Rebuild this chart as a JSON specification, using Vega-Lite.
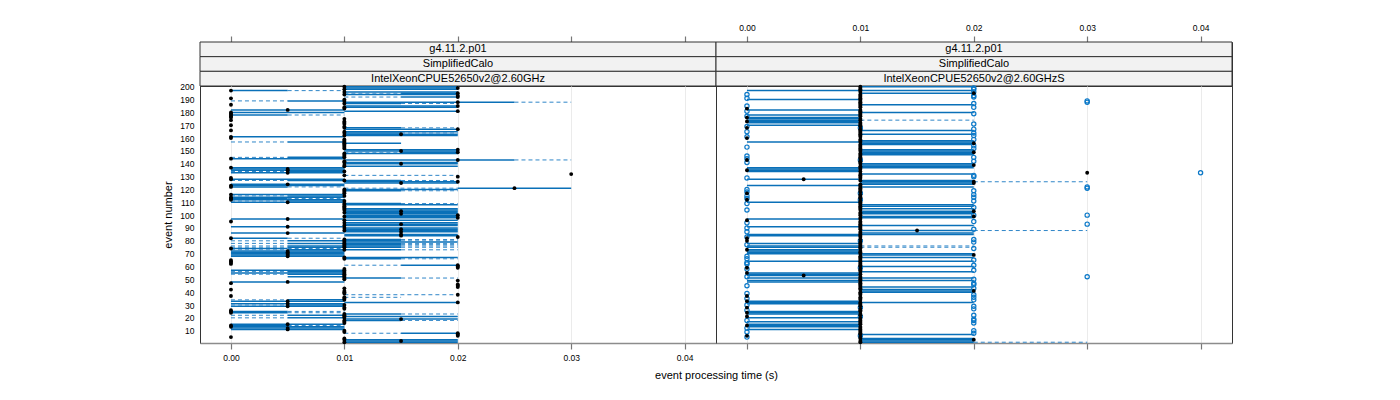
{
"$schema": "https://vega.github.io/schema/vega-lite/v6.json",
"padding": {"left": 162, "top": 22, "right": 0, "bottom": 0},
"spacing": 0,
"columns": 2,
"bounds": "flush",
"config": {
  "font": "Liberation Sans",
  "view": {"stroke": "#333333", "strokeWidth": 1},
  "axis": {"labelFont": "Liberation Sans", "titleFont": "Liberation Sans", "labelColor": "#000000", "titleColor": "#000000", "titleFontWeight": "normal", "labelFontSize": 8.5, "titleFontSize": 11}
},
"datasets": {
"strips": [
{"p":"L","lev":1,"label":"g4.11.2.p01"},{"p":"L","lev":2,"label":"SimplifiedCalo"},{"p":"L","lev":3,"label":"IntelXeonCPUE52650v2@2.60GHz"},
{"p":"R","lev":1,"label":"g4.11.2.p01"},{"p":"R","lev":2,"label":"SimplifiedCalo"},{"p":"R","lev":3,"label":"IntelXeonCPUE52650v2@2.60GHzS"}
],
"box": [
{"p":"L","e":1,"lo":0.01,"q1":0.01,"m":0.01,"q3":0.02,"hi":0.02},
{"p":"L","e":2,"lo":0.01,"q1":0.01,"m":0.015,"q3":0.02,"hi":0.02},
{"p":"L","e":3,"lo":0.01,"q1":0.01,"m":0.01,"q3":0.02,"hi":0.02},
{"p":"L","e":4,"lo":0.01,"q1":0.01,"m":0.01,"q3":0.01,"hi":0.01},
{"p":"L","e":5,"lo":0,"q1":0,"m":0,"q3":0,"hi":0},
{"p":"L","e":6,"lo":0.02,"q1":0.02,"m":0.02,"q3":0.02,"hi":0.02},
{"p":"L","e":7,"lo":0.02,"q1":0.02,"m":0.02,"q3":0.02,"hi":0.02},
{"p":"L","e":8,"lo":0.01,"q1":0.015,"m":0.02,"q3":0.02,"hi":0.02},
{"p":"L","e":9,"lo":0.01,"q1":0.01,"m":0.01,"q3":0.01,"hi":0.01},
{"p":"L","e":10,"lo":0.01,"q1":0.01,"m":0.01,"q3":0.01,"hi":0.01},
{"p":"L","e":11,"lo":0,"q1":0,"m":0.005,"q3":0.01,"hi":0.01},
{"p":"L","e":12,"lo":0,"q1":0,"m":0.005,"q3":0.01,"hi":0.01},
{"p":"L","e":13,"lo":0,"q1":0,"m":0,"q3":0.01,"hi":0.01},
{"p":"L","e":14,"lo":0,"q1":0,"m":0,"q3":0.005,"hi":0.01},
{"p":"L","e":15,"lo":0,"q1":0,"m":0.005,"q3":0.01,"hi":0.01},
{"p":"L","e":16,"lo":0.01,"q1":0.01,"m":0.01,"q3":0.01,"hi":0.01},
{"p":"L","e":17,"lo":0.01,"q1":0.01,"m":0.01,"q3":0.01,"hi":0.01},
{"p":"L","e":18,"lo":0.01,"q1":0.01,"m":0.01,"q3":0.015,"hi":0.02},
{"p":"L","e":19,"lo":0.01,"q1":0.01,"m":0.015,"q3":0.02,"hi":0.02},
{"p":"L","e":20,"lo":0,"q1":0.005,"m":0.01,"q3":0.01,"hi":0.01},
{"p":"L","e":21,"lo":0.01,"q1":0.01,"m":0.01,"q3":0.02,"hi":0.02},
{"p":"L","e":22,"lo":0,"q1":0.005,"m":0.01,"q3":0.01,"hi":0.01},
{"p":"L","e":23,"lo":0.01,"q1":0.01,"m":0.01,"q3":0.015,"hi":0.02},
{"p":"L","e":24,"lo":0,"q1":0,"m":0,"q3":0.005,"hi":0.01},
{"p":"L","e":25,"lo":0,"q1":0,"m":0,"q3":0.005,"hi":0.01},
{"p":"L","e":26,"lo":0,"q1":0,"m":0,"q3":0,"hi":0},
{"p":"L","e":27,"lo":0.01,"q1":0.01,"m":0.01,"q3":0.01,"hi":0.01},
{"p":"L","e":28,"lo":0.01,"q1":0.01,"m":0.01,"q3":0.01,"hi":0.01},
{"p":"L","e":29,"lo":0,"q1":0,"m":0.005,"q3":0.01,"hi":0.01},
{"p":"L","e":30,"lo":0,"q1":0.005,"m":0.01,"q3":0.01,"hi":0.01},
{"p":"L","e":31,"lo":0,"q1":0,"m":0.005,"q3":0.01,"hi":0.01},
{"p":"L","e":32,"lo":0.01,"q1":0.01,"m":0.02,"q3":0.02,"hi":0.02},
{"p":"L","e":33,"lo":0,"q1":0,"m":0.005,"q3":0.01,"hi":0.01},
{"p":"L","e":34,"lo":0,"q1":0.005,"m":0.01,"q3":0.01,"hi":0.01},
{"p":"L","e":35,"lo":0.01,"q1":0.01,"m":0.01,"q3":0.01,"hi":0.01},
{"p":"L","e":36,"lo":0.01,"q1":0.01,"m":0.01,"q3":0.01,"hi":0.015},
{"p":"L","e":37,"lo":0,"q1":0,"m":0,"q3":0,"hi":0},
{"p":"L","e":38,"lo":0.01,"q1":0.02,"m":0.02,"q3":0.02,"hi":0.02},
{"p":"L","e":39,"lo":0.01,"q1":0.01,"m":0.01,"q3":0.01,"hi":0.01},
{"p":"L","e":40,"lo":0.01,"q1":0.01,"m":0.01,"q3":0.01,"hi":0.01},
{"p":"L","e":41,"lo":0.01,"q1":0.01,"m":0.01,"q3":0.01,"hi":0.01},
{"p":"L","e":42,"lo":0,"q1":0,"m":0,"q3":0,"hi":0},
{"p":"L","e":43,"lo":0.01,"q1":0.01,"m":0.01,"q3":0.01,"hi":0.01},
{"p":"L","e":44,"lo":0.02,"q1":0.02,"m":0.02,"q3":0.02,"hi":0.02},
{"p":"L","e":45,"lo":0.02,"q1":0.02,"m":0.02,"q3":0.02,"hi":0.02},
{"p":"L","e":46,"lo":0.02,"q1":0.02,"m":0.02,"q3":0.02,"hi":0.02},
{"p":"L","e":47,"lo":0,"q1":0,"m":0,"q3":0,"hi":0},
{"p":"L","e":48,"lo":0,"q1":0,"m":0.005,"q3":0.01,"hi":0.01},
{"p":"L","e":49,"lo":0.02,"q1":0.02,"m":0.02,"q3":0.02,"hi":0.02},
{"p":"L","e":50,"lo":0.01,"q1":0.01,"m":0.01,"q3":0.01,"hi":0.01},
{"p":"L","e":51,"lo":0.01,"q1":0.01,"m":0.01,"q3":0.015,"hi":0.02},
{"p":"L","e":52,"lo":0.005,"q1":0.005,"m":0.01,"q3":0.01,"hi":0.01},
{"p":"L","e":53,"lo":0.01,"q1":0.01,"m":0.01,"q3":0.01,"hi":0.01},
{"p":"L","e":54,"lo":0,"q1":0.005,"m":0.01,"q3":0.01,"hi":0.01},
{"p":"L","e":55,"lo":0,"q1":0,"m":0.01,"q3":0.01,"hi":0.01},
{"p":"L","e":56,"lo":0,"q1":0.005,"m":0.01,"q3":0.01,"hi":0.01},
{"p":"L","e":57,"lo":0,"q1":0,"m":0.01,"q3":0.01,"hi":0.01},
{"p":"L","e":58,"lo":0.01,"q1":0.01,"m":0.01,"q3":0.01,"hi":0.01},
{"p":"L","e":59,"lo":0.02,"q1":0.02,"m":0.02,"q3":0.02,"hi":0.02},
{"p":"L","e":60,"lo":0.02,"q1":0.02,"m":0.02,"q3":0.02,"hi":0.02},
{"p":"L","e":61,"lo":0.01,"q1":0.015,"m":0.02,"q3":0.02,"hi":0.02},
{"p":"L","e":62,"lo":0,"q1":0,"m":0,"q3":0,"hi":0},
{"p":"L","e":63,"lo":0,"q1":0,"m":0,"q3":0,"hi":0},
{"p":"L","e":64,"lo":0,"q1":0,"m":0,"q3":0,"hi":0},
{"p":"L","e":65,"lo":0,"q1":0,"m":0,"q3":0,"hi":0},
{"p":"L","e":66,"lo":0.01,"q1":0.01,"m":0.01,"q3":0.015,"hi":0.02},
{"p":"L","e":67,"lo":0.01,"q1":0.01,"m":0.01,"q3":0.02,"hi":0.02},
{"p":"L","e":68,"lo":0,"q1":0,"m":0.005,"q3":0.01,"hi":0.01},
{"p":"L","e":69,"lo":0,"q1":0,"m":0.005,"q3":0.01,"hi":0.01},
{"p":"L","e":70,"lo":0,"q1":0,"m":0.005,"q3":0.01,"hi":0.01},
{"p":"L","e":71,"lo":0,"q1":0,"m":0.005,"q3":0.01,"hi":0.01},
{"p":"L","e":72,"lo":0,"q1":0,"m":0.005,"q3":0.01,"hi":0.01},
{"p":"L","e":73,"lo":0,"q1":0.005,"m":0.01,"q3":0.015,"hi":0.02},
{"p":"L","e":74,"lo":0,"q1":0,"m":0,"q3":0.005,"hi":0.01},
{"p":"L","e":75,"lo":0,"q1":0.005,"m":0.01,"q3":0.015,"hi":0.02},
{"p":"L","e":76,"lo":0,"q1":0.005,"m":0.01,"q3":0.015,"hi":0.02},
{"p":"L","e":77,"lo":0.01,"q1":0.01,"m":0.01,"q3":0.015,"hi":0.02},
{"p":"L","e":78,"lo":0,"q1":0.005,"m":0.01,"q3":0.015,"hi":0.02},
{"p":"L","e":79,"lo":0.01,"q1":0.01,"m":0.01,"q3":0.02,"hi":0.02},
{"p":"L","e":80,"lo":0,"q1":0.005,"m":0.01,"q3":0.015,"hi":0.02},
{"p":"L","e":81,"lo":0.01,"q1":0.01,"m":0.01,"q3":0.015,"hi":0.02},
{"p":"L","e":82,"lo":0,"q1":0,"m":0,"q3":0.005,"hi":0.01},
{"p":"L","e":83,"lo":0.02,"q1":0.02,"m":0.02,"q3":0.02,"hi":0.02},
{"p":"L","e":84,"lo":0.01,"q1":0.01,"m":0.015,"q3":0.02,"hi":0.02},
{"p":"L","e":85,"lo":0.01,"q1":0.01,"m":0.015,"q3":0.02,"hi":0.02},
{"p":"L","e":86,"lo":0,"q1":0,"m":0.005,"q3":0.01,"hi":0.01},
{"p":"L","e":87,"lo":0.01,"q1":0.01,"m":0.015,"q3":0.02,"hi":0.02},
{"p":"L","e":88,"lo":0.01,"q1":0.01,"m":0.01,"q3":0.02,"hi":0.02},
{"p":"L","e":89,"lo":0.01,"q1":0.01,"m":0.015,"q3":0.02,"hi":0.02},
{"p":"L","e":90,"lo":0.01,"q1":0.01,"m":0.01,"q3":0.02,"hi":0.02},
{"p":"L","e":91,"lo":0,"q1":0,"m":0.005,"q3":0.01,"hi":0.01},
{"p":"L","e":92,"lo":0.01,"q1":0.01,"m":0.01,"q3":0.02,"hi":0.02},
{"p":"L","e":93,"lo":0.01,"q1":0.01,"m":0.015,"q3":0.02,"hi":0.02},
{"p":"L","e":94,"lo":0.01,"q1":0.01,"m":0.01,"q3":0.02,"hi":0.02},
{"p":"L","e":95,"lo":0,"q1":0,"m":0,"q3":0,"hi":0},
{"p":"L","e":96,"lo":0.01,"q1":0.01,"m":0.01,"q3":0.02,"hi":0.02},
{"p":"L","e":97,"lo":0,"q1":0,"m":0.005,"q3":0.01,"hi":0.01},
{"p":"L","e":98,"lo":0.01,"q1":0.01,"m":0.02,"q3":0.02,"hi":0.02},
{"p":"L","e":99,"lo":0.01,"q1":0.01,"m":0.01,"q3":0.02,"hi":0.02},
{"p":"L","e":100,"lo":0.01,"q1":0.01,"m":0.02,"q3":0.02,"hi":0.02},
{"p":"L","e":101,"lo":0.01,"q1":0.01,"m":0.015,"q3":0.02,"hi":0.02},
{"p":"L","e":102,"lo":0.01,"q1":0.01,"m":0.01,"q3":0.02,"hi":0.02},
{"p":"L","e":103,"lo":0.01,"q1":0.01,"m":0.015,"q3":0.02,"hi":0.02},
{"p":"L","e":104,"lo":0.01,"q1":0.01,"m":0.01,"q3":0.02,"hi":0.02},
{"p":"L","e":105,"lo":0.01,"q1":0.01,"m":0.01,"q3":0.02,"hi":0.02},
{"p":"L","e":106,"lo":0.01,"q1":0.01,"m":0.01,"q3":0.01,"hi":0.01},
{"p":"L","e":107,"lo":0.01,"q1":0.01,"m":0.01,"q3":0.01,"hi":0.01},
{"p":"L","e":108,"lo":0.01,"q1":0.01,"m":0.01,"q3":0.02,"hi":0.02},
{"p":"L","e":109,"lo":0.01,"q1":0.01,"m":0.01,"q3":0.015,"hi":0.02},
{"p":"L","e":110,"lo":0,"q1":0,"m":0.005,"q3":0.01,"hi":0.01},
{"p":"L","e":111,"lo":0,"q1":0.005,"m":0.01,"q3":0.01,"hi":0.01},
{"p":"L","e":112,"lo":0,"q1":0,"m":0,"q3":0.01,"hi":0.01},
{"p":"L","e":113,"lo":0,"q1":0,"m":0,"q3":0.005,"hi":0.01},
{"p":"L","e":114,"lo":0,"q1":0,"m":0,"q3":0.01,"hi":0.01},
{"p":"L","e":115,"lo":0,"q1":0.005,"m":0.01,"q3":0.01,"hi":0.01},
{"p":"L","e":116,"lo":0,"q1":0,"m":0,"q3":0.01,"hi":0.01},
{"p":"L","e":117,"lo":0.01,"q1":0.01,"m":0.01,"q3":0.01,"hi":0.01},
{"p":"L","e":118,"lo":0.01,"q1":0.01,"m":0.01,"q3":0.01,"hi":0.01},
{"p":"L","e":119,"lo":0.01,"q1":0.01,"m":0.01,"q3":0.015,"hi":0.02},
{"p":"L","e":120,"lo":0.01,"q1":0.01,"m":0.01,"q3":0.02,"hi":0.02},
{"p":"L","e":121,"lo":0.01,"q1":0.02,"m":0.025,"q3":0.03,"hi":0.03},
{"p":"L","e":122,"lo":0,"q1":0,"m":0,"q3":0.005,"hi":0.01},
{"p":"L","e":123,"lo":0,"q1":0,"m":0,"q3":0.01,"hi":0.01},
{"p":"L","e":124,"lo":0,"q1":0,"m":0.005,"q3":0.01,"hi":0.01},
{"p":"L","e":125,"lo":0.01,"q1":0.01,"m":0.015,"q3":0.02,"hi":0.02},
{"p":"L","e":126,"lo":0.01,"q1":0.01,"m":0.02,"q3":0.02,"hi":0.02},
{"p":"L","e":127,"lo":0,"q1":0.005,"m":0.01,"q3":0.015,"hi":0.02},
{"p":"L","e":128,"lo":0,"q1":0,"m":0,"q3":0.01,"hi":0.01},
{"p":"L","e":129,"lo":0,"q1":0,"m":0,"q3":0,"hi":0},
{"p":"L","e":130,"lo":0.02,"q1":0.02,"m":0.02,"q3":0.02,"hi":0.02},
{"p":"L","e":131,"lo":0.01,"q1":0.01,"m":0.01,"q3":0.01,"hi":0.02},
{"p":"L","e":132,"lo":0.03,"q1":0.03,"m":0.03,"q3":0.03,"hi":0.03},
{"p":"L","e":133,"lo":0,"q1":0,"m":0.005,"q3":0.01,"hi":0.01},
{"p":"L","e":134,"lo":0,"q1":0.005,"m":0.01,"q3":0.01,"hi":0.01},
{"p":"L","e":135,"lo":0,"q1":0,"m":0.005,"q3":0.01,"hi":0.01},
{"p":"L","e":136,"lo":0,"q1":0,"m":0.005,"q3":0.01,"hi":0.01},
{"p":"L","e":137,"lo":0,"q1":0,"m":0,"q3":0.01,"hi":0.01},
{"p":"L","e":138,"lo":0.01,"q1":0.01,"m":0.01,"q3":0.02,"hi":0.02},
{"p":"L","e":139,"lo":0.01,"q1":0.01,"m":0.01,"q3":0.01,"hi":0.01},
{"p":"L","e":140,"lo":0.01,"q1":0.01,"m":0.015,"q3":0.02,"hi":0.02},
{"p":"L","e":141,"lo":0.01,"q1":0.01,"m":0.01,"q3":0.02,"hi":0.02},
{"p":"L","e":142,"lo":0.01,"q1":0.01,"m":0.01,"q3":0.01,"hi":0.01},
{"p":"L","e":143,"lo":0.01,"q1":0.01,"m":0.02,"q3":0.025,"hi":0.03},
{"p":"L","e":144,"lo":0,"q1":0,"m":0,"q3":0.01,"hi":0.01},
{"p":"L","e":145,"lo":0,"q1":0.005,"m":0.01,"q3":0.01,"hi":0.01},
{"p":"L","e":146,"lo":0.01,"q1":0.01,"m":0.01,"q3":0.01,"hi":0.01},
{"p":"L","e":147,"lo":0.01,"q1":0.01,"m":0.01,"q3":0.01,"hi":0.01},
{"p":"L","e":148,"lo":0.01,"q1":0.01,"m":0.01,"q3":0.02,"hi":0.02},
{"p":"L","e":149,"lo":0.01,"q1":0.015,"m":0.02,"q3":0.02,"hi":0.02},
{"p":"L","e":150,"lo":0.01,"q1":0.01,"m":0.015,"q3":0.02,"hi":0.02},
{"p":"L","e":151,"lo":0.01,"q1":0.01,"m":0.02,"q3":0.02,"hi":0.02},
{"p":"L","e":152,"lo":0.01,"q1":0.01,"m":0.01,"q3":0.01,"hi":0.01},
{"p":"L","e":153,"lo":0.01,"q1":0.01,"m":0.01,"q3":0.01,"hi":0.01},
{"p":"L","e":154,"lo":0.01,"q1":0.01,"m":0.01,"q3":0.01,"hi":0.01},
{"p":"L","e":155,"lo":0.01,"q1":0.01,"m":0.01,"q3":0.01,"hi":0.01},
{"p":"L","e":156,"lo":0.01,"q1":0.01,"m":0.01,"q3":0.015,"hi":0.015},
{"p":"L","e":157,"lo":0,"q1":0.005,"m":0.01,"q3":0.01,"hi":0.01},
{"p":"L","e":158,"lo":0.01,"q1":0.01,"m":0.01,"q3":0.01,"hi":0.01},
{"p":"L","e":159,"lo":0.01,"q1":0.01,"m":0.01,"q3":0.01,"hi":0.01},
{"p":"L","e":160,"lo":0,"q1":0,"m":0,"q3":0,"hi":0},
{"p":"L","e":161,"lo":0,"q1":0,"m":0,"q3":0.01,"hi":0.01},
{"p":"L","e":162,"lo":0.01,"q1":0.01,"m":0.01,"q3":0.02,"hi":0.02},
{"p":"L","e":163,"lo":0.01,"q1":0.01,"m":0.015,"q3":0.02,"hi":0.02},
{"p":"L","e":164,"lo":0.01,"q1":0.01,"m":0.01,"q3":0.015,"hi":0.02},
{"p":"L","e":165,"lo":0.01,"q1":0.01,"m":0.01,"q3":0.02,"hi":0.02},
{"p":"L","e":166,"lo":0,"q1":0,"m":0,"q3":0,"hi":0},
{"p":"L","e":167,"lo":0.01,"q1":0.01,"m":0.02,"q3":0.02,"hi":0.02},
{"p":"L","e":168,"lo":0.01,"q1":0.01,"m":0.01,"q3":0.015,"hi":0.02},
{"p":"L","e":169,"lo":0.01,"q1":0.01,"m":0.01,"q3":0.01,"hi":0.01},
{"p":"L","e":170,"lo":0,"q1":0,"m":0,"q3":0,"hi":0},
{"p":"L","e":171,"lo":0.01,"q1":0.01,"m":0.01,"q3":0.01,"hi":0.01},
{"p":"L","e":172,"lo":0.01,"q1":0.01,"m":0.01,"q3":0.01,"hi":0.01},
{"p":"L","e":173,"lo":0.01,"q1":0.01,"m":0.01,"q3":0.01,"hi":0.01},
{"p":"L","e":174,"lo":0,"q1":0,"m":0,"q3":0,"hi":0},
{"p":"L","e":175,"lo":0.01,"q1":0.01,"m":0.01,"q3":0.01,"hi":0.01},
{"p":"L","e":176,"lo":0,"q1":0,"m":0,"q3":0,"hi":0},
{"p":"L","e":177,"lo":0,"q1":0,"m":0,"q3":0,"hi":0},
{"p":"L","e":178,"lo":0,"q1":0,"m":0,"q3":0.005,"hi":0.01},
{"p":"L","e":179,"lo":0,"q1":0,"m":0,"q3":0,"hi":0},
{"p":"L","e":180,"lo":0,"q1":0,"m":0,"q3":0.01,"hi":0.01},
{"p":"L","e":181,"lo":0.01,"q1":0.01,"m":0.02,"q3":0.02,"hi":0.02},
{"p":"L","e":182,"lo":0,"q1":0,"m":0.005,"q3":0.01,"hi":0.01},
{"p":"L","e":183,"lo":0.01,"q1":0.01,"m":0.01,"q3":0.01,"hi":0.01},
{"p":"L","e":184,"lo":0.01,"q1":0.01,"m":0.01,"q3":0.02,"hi":0.02},
{"p":"L","e":185,"lo":0.01,"q1":0.01,"m":0.02,"q3":0.02,"hi":0.02},
{"p":"L","e":186,"lo":0,"q1":0,"m":0,"q3":0,"hi":0},
{"p":"L","e":187,"lo":0.01,"q1":0.01,"m":0.01,"q3":0.015,"hi":0.02},
{"p":"L","e":188,"lo":0.01,"q1":0.01,"m":0.02,"q3":0.025,"hi":0.03},
{"p":"L","e":189,"lo":0,"q1":0.005,"m":0.01,"q3":0.01,"hi":0.01},
{"p":"L","e":190,"lo":0.01,"q1":0.01,"m":0.01,"q3":0.01,"hi":0.01},
{"p":"L","e":191,"lo":0,"q1":0,"m":0,"q3":0,"hi":0},
{"p":"L","e":192,"lo":0.01,"q1":0.015,"m":0.02,"q3":0.02,"hi":0.02},
{"p":"L","e":193,"lo":0.02,"q1":0.02,"m":0.02,"q3":0.02,"hi":0.02},
{"p":"L","e":194,"lo":0.01,"q1":0.01,"m":0.01,"q3":0.02,"hi":0.02},
{"p":"L","e":195,"lo":0.01,"q1":0.015,"m":0.02,"q3":0.02,"hi":0.02},
{"p":"L","e":196,"lo":0.01,"q1":0.01,"m":0.01,"q3":0.02,"hi":0.02},
{"p":"L","e":197,"lo":0,"q1":0,"m":0,"q3":0.005,"hi":0.01},
{"p":"L","e":198,"lo":0.01,"q1":0.01,"m":0.01,"q3":0.02,"hi":0.02},
{"p":"L","e":199,"lo":0.01,"q1":0.01,"m":0.02,"q3":0.02,"hi":0.02},
{"p":"L","e":200,"lo":0.01,"q1":0.01,"m":0.01,"q3":0.02,"hi":0.02},
{"p":"R","e":1,"lo":0.01,"q1":0.01,"m":0.01,"q3":0.02,"hi":0.03},
{"p":"R","e":2,"lo":0.01,"q1":0.01,"m":0.01,"q3":0.02,"hi":0.02},
{"p":"R","e":3,"lo":0.01,"q1":0.01,"m":0.02,"q3":0.02,"hi":0.02},
{"p":"R","e":4,"lo":0.01,"q1":0.01,"m":0.01,"q3":0.02,"hi":0.02},
{"p":"R","e":5,"lo":0.01,"q1":0.01,"m":0.01,"q3":0.01,"hi":0.01},
{"p":"R","e":6,"lo":0,"q1":0,"m":0,"q3":0,"hi":0},
{"p":"R","e":7,"lo":0.01,"q1":0.01,"m":0.01,"q3":0.02,"hi":0.02},
{"p":"R","e":8,"lo":0.01,"q1":0.01,"m":0.01,"q3":0.01,"hi":0.01},
{"p":"R","e":9,"lo":0.01,"q1":0.01,"m":0.01,"q3":0.01,"hi":0.01},
{"p":"R","e":10,"lo":0.01,"q1":0.01,"m":0.01,"q3":0.01,"hi":0.01},
{"p":"R","e":11,"lo":0,"q1":0,"m":0.01,"q3":0.01,"hi":0.01},
{"p":"R","e":12,"lo":0.01,"q1":0.01,"m":0.01,"q3":0.01,"hi":0.01},
{"p":"R","e":13,"lo":0,"q1":0,"m":0.01,"q3":0.01,"hi":0.01},
{"p":"R","e":14,"lo":0,"q1":0,"m":0,"q3":0.01,"hi":0.01},
{"p":"R","e":15,"lo":0,"q1":0,"m":0.01,"q3":0.01,"hi":0.01},
{"p":"R","e":16,"lo":0.01,"q1":0.01,"m":0.01,"q3":0.01,"hi":0.01},
{"p":"R","e":17,"lo":0,"q1":0,"m":0.01,"q3":0.01,"hi":0.01},
{"p":"R","e":18,"lo":0.01,"q1":0.01,"m":0.01,"q3":0.01,"hi":0.01},
{"p":"R","e":19,"lo":0.01,"q1":0.01,"m":0.01,"q3":0.01,"hi":0.01},
{"p":"R","e":20,"lo":0,"q1":0,"m":0.01,"q3":0.01,"hi":0.01},
{"p":"R","e":21,"lo":0,"q1":0,"m":0,"q3":0,"hi":0},
{"p":"R","e":22,"lo":0.01,"q1":0.01,"m":0.01,"q3":0.01,"hi":0.01},
{"p":"R","e":23,"lo":0,"q1":0,"m":0.01,"q3":0.01,"hi":0.01},
{"p":"R","e":24,"lo":0,"q1":0,"m":0,"q3":0.01,"hi":0.01},
{"p":"R","e":25,"lo":0,"q1":0,"m":0.01,"q3":0.01,"hi":0.01},
{"p":"R","e":26,"lo":0.01,"q1":0.01,"m":0.01,"q3":0.01,"hi":0.01},
{"p":"R","e":27,"lo":0.01,"q1":0.01,"m":0.01,"q3":0.01,"hi":0.01},
{"p":"R","e":28,"lo":0,"q1":0,"m":0,"q3":0,"hi":0},
{"p":"R","e":29,"lo":0.01,"q1":0.01,"m":0.01,"q3":0.01,"hi":0.01},
{"p":"R","e":30,"lo":0.01,"q1":0.01,"m":0.01,"q3":0.01,"hi":0.01},
{"p":"R","e":31,"lo":0,"q1":0,"m":0.01,"q3":0.01,"hi":0.01},
{"p":"R","e":32,"lo":0,"q1":0,"m":0.01,"q3":0.02,"hi":0.02},
{"p":"R","e":33,"lo":0,"q1":0,"m":0,"q3":0.01,"hi":0.01},
{"p":"R","e":34,"lo":0.01,"q1":0.01,"m":0.01,"q3":0.01,"hi":0.01},
{"p":"R","e":35,"lo":0.01,"q1":0.01,"m":0.01,"q3":0.01,"hi":0.01},
{"p":"R","e":36,"lo":0.01,"q1":0.01,"m":0.01,"q3":0.01,"hi":0.01},
{"p":"R","e":37,"lo":0,"q1":0,"m":0,"q3":0,"hi":0},
{"p":"R","e":38,"lo":0.01,"q1":0.01,"m":0.01,"q3":0.01,"hi":0.01},
{"p":"R","e":39,"lo":0.01,"q1":0.01,"m":0.01,"q3":0.01,"hi":0.01},
{"p":"R","e":40,"lo":0.01,"q1":0.01,"m":0.01,"q3":0.02,"hi":0.02},
{"p":"R","e":41,"lo":0.01,"q1":0.01,"m":0.02,"q3":0.02,"hi":0.02},
{"p":"R","e":42,"lo":0.01,"q1":0.01,"m":0.01,"q3":0.02,"hi":0.02},
{"p":"R","e":43,"lo":0.01,"q1":0.01,"m":0.01,"q3":0.01,"hi":0.01},
{"p":"R","e":44,"lo":0.01,"q1":0.01,"m":0.01,"q3":0.02,"hi":0.02},
{"p":"R","e":45,"lo":0.01,"q1":0.01,"m":0.01,"q3":0.01,"hi":0.01},
{"p":"R","e":46,"lo":0.01,"q1":0.01,"m":0.01,"q3":0.01,"hi":0.01},
{"p":"R","e":47,"lo":0.01,"q1":0.01,"m":0.01,"q3":0.01,"hi":0.01},
{"p":"R","e":48,"lo":0,"q1":0,"m":0.01,"q3":0.01,"hi":0.01},
{"p":"R","e":49,"lo":0,"q1":0,"m":0.01,"q3":0.02,"hi":0.02},
{"p":"R","e":50,"lo":0.01,"q1":0.01,"m":0.01,"q3":0.01,"hi":0.01},
{"p":"R","e":51,"lo":0,"q1":0,"m":0.01,"q3":0.02,"hi":0.02},
{"p":"R","e":52,"lo":0.01,"q1":0.01,"m":0.01,"q3":0.01,"hi":0.01},
{"p":"R","e":53,"lo":0,"q1":0,"m":0.005,"q3":0.01,"hi":0.01},
{"p":"R","e":54,"lo":0,"q1":0,"m":0.01,"q3":0.01,"hi":0.01},
{"p":"R","e":55,"lo":0,"q1":0,"m":0,"q3":0.01,"hi":0.01},
{"p":"R","e":56,"lo":0.01,"q1":0.01,"m":0.01,"q3":0.02,"hi":0.02},
{"p":"R","e":57,"lo":0.01,"q1":0.01,"m":0.01,"q3":0.01,"hi":0.01},
{"p":"R","e":58,"lo":0.01,"q1":0.01,"m":0.01,"q3":0.01,"hi":0.01},
{"p":"R","e":59,"lo":0,"q1":0,"m":0,"q3":0,"hi":0},
{"p":"R","e":60,"lo":0.01,"q1":0.01,"m":0.01,"q3":0.02,"hi":0.02},
{"p":"R","e":61,"lo":0.01,"q1":0.01,"m":0.01,"q3":0.01,"hi":0.01},
{"p":"R","e":62,"lo":0.01,"q1":0.01,"m":0.01,"q3":0.01,"hi":0.01},
{"p":"R","e":63,"lo":0.01,"q1":0.01,"m":0.01,"q3":0.01,"hi":0.01},
{"p":"R","e":64,"lo":0,"q1":0,"m":0.01,"q3":0.02,"hi":0.02},
{"p":"R","e":65,"lo":0.01,"q1":0.01,"m":0.01,"q3":0.01,"hi":0.01},
{"p":"R","e":66,"lo":0.01,"q1":0.01,"m":0.01,"q3":0.01,"hi":0.01},
{"p":"R","e":67,"lo":0.01,"q1":0.01,"m":0.01,"q3":0.02,"hi":0.02},
{"p":"R","e":68,"lo":0.01,"q1":0.01,"m":0.01,"q3":0.01,"hi":0.01},
{"p":"R","e":69,"lo":0.01,"q1":0.01,"m":0.02,"q3":0.02,"hi":0.02},
{"p":"R","e":70,"lo":0,"q1":0,"m":0.01,"q3":0.02,"hi":0.02},
{"p":"R","e":71,"lo":0,"q1":0,"m":0.01,"q3":0.01,"hi":0.01},
{"p":"R","e":72,"lo":0,"q1":0,"m":0.01,"q3":0.01,"hi":0.01},
{"p":"R","e":73,"lo":0,"q1":0,"m":0,"q3":0.01,"hi":0.01},
{"p":"R","e":74,"lo":0.01,"q1":0.01,"m":0.01,"q3":0.01,"hi":0.01},
{"p":"R","e":75,"lo":0,"q1":0,"m":0.01,"q3":0.01,"hi":0.02},
{"p":"R","e":76,"lo":0,"q1":0,"m":0.01,"q3":0.01,"hi":0.02},
{"p":"R","e":77,"lo":0.01,"q1":0.01,"m":0.01,"q3":0.01,"hi":0.01},
{"p":"R","e":78,"lo":0,"q1":0,"m":0.01,"q3":0.01,"hi":0.01},
{"p":"R","e":79,"lo":0.01,"q1":0.01,"m":0.01,"q3":0.01,"hi":0.01},
{"p":"R","e":80,"lo":0,"q1":0,"m":0,"q3":0,"hi":0},
{"p":"R","e":81,"lo":0.01,"q1":0.01,"m":0.01,"q3":0.01,"hi":0.01},
{"p":"R","e":82,"lo":0,"q1":0,"m":0,"q3":0,"hi":0},
{"p":"R","e":83,"lo":0.01,"q1":0.01,"m":0.01,"q3":0.01,"hi":0.01},
{"p":"R","e":84,"lo":0,"q1":0,"m":0.01,"q3":0.01,"hi":0.01},
{"p":"R","e":85,"lo":0,"q1":0,"m":0.01,"q3":0.02,"hi":0.02},
{"p":"R","e":86,"lo":0.01,"q1":0.01,"m":0.01,"q3":0.02,"hi":0.02},
{"p":"R","e":87,"lo":0.01,"q1":0.01,"m":0.01,"q3":0.01,"hi":0.01},
{"p":"R","e":88,"lo":0.01,"q1":0.01,"m":0.015,"q3":0.02,"hi":0.03},
{"p":"R","e":89,"lo":0.01,"q1":0.01,"m":0.01,"q3":0.01,"hi":0.01},
{"p":"R","e":90,"lo":0.01,"q1":0.01,"m":0.01,"q3":0.01,"hi":0.01},
{"p":"R","e":91,"lo":0,"q1":0,"m":0.01,"q3":0.01,"hi":0.01},
{"p":"R","e":92,"lo":0.01,"q1":0.01,"m":0.01,"q3":0.02,"hi":0.02},
{"p":"R","e":93,"lo":0.01,"q1":0.01,"m":0.01,"q3":0.01,"hi":0.01},
{"p":"R","e":94,"lo":0.01,"q1":0.01,"m":0.01,"q3":0.01,"hi":0.01},
{"p":"R","e":95,"lo":0.01,"q1":0.01,"m":0.01,"q3":0.01,"hi":0.01},
{"p":"R","e":96,"lo":0,"q1":0,"m":0,"q3":0,"hi":0},
{"p":"R","e":97,"lo":0,"q1":0,"m":0.01,"q3":0.01,"hi":0.01},
{"p":"R","e":98,"lo":0.01,"q1":0.01,"m":0.01,"q3":0.02,"hi":0.02},
{"p":"R","e":99,"lo":0.01,"q1":0.01,"m":0.02,"q3":0.02,"hi":0.02},
{"p":"R","e":100,"lo":0.01,"q1":0.01,"m":0.01,"q3":0.01,"hi":0.01},
{"p":"R","e":101,"lo":0.01,"q1":0.01,"m":0.01,"q3":0.02,"hi":0.02},
{"p":"R","e":102,"lo":0.01,"q1":0.01,"m":0.01,"q3":0.02,"hi":0.02},
{"p":"R","e":103,"lo":0.01,"q1":0.01,"m":0.02,"q3":0.02,"hi":0.02},
{"p":"R","e":104,"lo":0.01,"q1":0.01,"m":0.01,"q3":0.01,"hi":0.01},
{"p":"R","e":105,"lo":0.01,"q1":0.01,"m":0.01,"q3":0.02,"hi":0.02},
{"p":"R","e":106,"lo":0.01,"q1":0.01,"m":0.01,"q3":0.01,"hi":0.01},
{"p":"R","e":107,"lo":0.01,"q1":0.01,"m":0.01,"q3":0.02,"hi":0.02},
{"p":"R","e":108,"lo":0.01,"q1":0.01,"m":0.01,"q3":0.02,"hi":0.02},
{"p":"R","e":109,"lo":0.01,"q1":0.01,"m":0.01,"q3":0.01,"hi":0.01},
{"p":"R","e":110,"lo":0,"q1":0,"m":0.01,"q3":0.01,"hi":0.01},
{"p":"R","e":111,"lo":0.01,"q1":0.01,"m":0.01,"q3":0.01,"hi":0.01},
{"p":"R","e":112,"lo":0,"q1":0,"m":0,"q3":0,"hi":0},
{"p":"R","e":113,"lo":0.01,"q1":0.01,"m":0.01,"q3":0.01,"hi":0.01},
{"p":"R","e":114,"lo":0.01,"q1":0.01,"m":0.01,"q3":0.01,"hi":0.01},
{"p":"R","e":115,"lo":0.01,"q1":0.01,"m":0.01,"q3":0.01,"hi":0.01},
{"p":"R","e":116,"lo":0.01,"q1":0.01,"m":0.01,"q3":0.01,"hi":0.01},
{"p":"R","e":117,"lo":0,"q1":0,"m":0,"q3":0,"hi":0},
{"p":"R","e":118,"lo":0.01,"q1":0.01,"m":0.01,"q3":0.01,"hi":0.01},
{"p":"R","e":119,"lo":0.01,"q1":0.01,"m":0.01,"q3":0.01,"hi":0.01},
{"p":"R","e":120,"lo":0.01,"q1":0.01,"m":0.01,"q3":0.01,"hi":0.01},
{"p":"R","e":121,"lo":0.01,"q1":0.01,"m":0.01,"q3":0.01,"hi":0.01},
{"p":"R","e":122,"lo":0.01,"q1":0.01,"m":0.01,"q3":0.02,"hi":0.02},
{"p":"R","e":123,"lo":0,"q1":0,"m":0.01,"q3":0.01,"hi":0.01},
{"p":"R","e":124,"lo":0.01,"q1":0.01,"m":0.01,"q3":0.02,"hi":0.02},
{"p":"R","e":125,"lo":0.01,"q1":0.01,"m":0.02,"q3":0.02,"hi":0.02},
{"p":"R","e":126,"lo":0.01,"q1":0.01,"m":0.02,"q3":0.02,"hi":0.03},
{"p":"R","e":127,"lo":0.01,"q1":0.01,"m":0.01,"q3":0.02,"hi":0.02},
{"p":"R","e":128,"lo":0,"q1":0,"m":0.005,"q3":0.01,"hi":0.01},
{"p":"R","e":129,"lo":0.01,"q1":0.01,"m":0.01,"q3":0.01,"hi":0.01},
{"p":"R","e":130,"lo":0.01,"q1":0.01,"m":0.01,"q3":0.01,"hi":0.01},
{"p":"R","e":131,"lo":0.01,"q1":0.01,"m":0.01,"q3":0.01,"hi":0.01},
{"p":"R","e":132,"lo":0.01,"q1":0.01,"m":0.01,"q3":0.02,"hi":0.02},
{"p":"R","e":133,"lo":0.03,"q1":0.03,"m":0.03,"q3":0.03,"hi":0.03},
{"p":"R","e":134,"lo":0,"q1":0,"m":0.01,"q3":0.01,"hi":0.01},
{"p":"R","e":135,"lo":0,"q1":0,"m":0,"q3":0.01,"hi":0.01},
{"p":"R","e":136,"lo":0,"q1":0,"m":0.01,"q3":0.01,"hi":0.01},
{"p":"R","e":137,"lo":0,"q1":0,"m":0.01,"q3":0.02,"hi":0.02},
{"p":"R","e":138,"lo":0.01,"q1":0.01,"m":0.01,"q3":0.02,"hi":0.02},
{"p":"R","e":139,"lo":0.01,"q1":0.01,"m":0.02,"q3":0.02,"hi":0.02},
{"p":"R","e":140,"lo":0.01,"q1":0.01,"m":0.01,"q3":0.02,"hi":0.02},
{"p":"R","e":141,"lo":0.01,"q1":0.01,"m":0.01,"q3":0.01,"hi":0.01},
{"p":"R","e":142,"lo":0.01,"q1":0.01,"m":0.01,"q3":0.01,"hi":0.01},
{"p":"R","e":143,"lo":0,"q1":0,"m":0,"q3":0,"hi":0},
{"p":"R","e":144,"lo":0.01,"q1":0.01,"m":0.01,"q3":0.01,"hi":0.01},
{"p":"R","e":145,"lo":0.01,"q1":0.01,"m":0.01,"q3":0.01,"hi":0.01},
{"p":"R","e":146,"lo":0.01,"q1":0.01,"m":0.01,"q3":0.01,"hi":0.01},
{"p":"R","e":147,"lo":0.01,"q1":0.01,"m":0.01,"q3":0.02,"hi":0.02},
{"p":"R","e":148,"lo":0.01,"q1":0.01,"m":0.01,"q3":0.02,"hi":0.02},
{"p":"R","e":149,"lo":0.01,"q1":0.01,"m":0.02,"q3":0.02,"hi":0.02},
{"p":"R","e":150,"lo":0.01,"q1":0.01,"m":0.01,"q3":0.02,"hi":0.02},
{"p":"R","e":151,"lo":0.01,"q1":0.01,"m":0.01,"q3":0.02,"hi":0.02},
{"p":"R","e":152,"lo":0.01,"q1":0.01,"m":0.01,"q3":0.01,"hi":0.01},
{"p":"R","e":153,"lo":0.01,"q1":0.01,"m":0.01,"q3":0.01,"hi":0.01},
{"p":"R","e":154,"lo":0.01,"q1":0.01,"m":0.01,"q3":0.01,"hi":0.01},
{"p":"R","e":155,"lo":0.01,"q1":0.01,"m":0.01,"q3":0.02,"hi":0.02},
{"p":"R","e":156,"lo":0.01,"q1":0.01,"m":0.02,"q3":0.02,"hi":0.02},
{"p":"R","e":157,"lo":0,"q1":0,"m":0.01,"q3":0.02,"hi":0.02},
{"p":"R","e":158,"lo":0.01,"q1":0.01,"m":0.01,"q3":0.02,"hi":0.02},
{"p":"R","e":159,"lo":0.01,"q1":0.01,"m":0.01,"q3":0.01,"hi":0.01},
{"p":"R","e":160,"lo":0,"q1":0,"m":0,"q3":0,"hi":0},
{"p":"R","e":161,"lo":0.01,"q1":0.01,"m":0.01,"q3":0.01,"hi":0.01},
{"p":"R","e":162,"lo":0.01,"q1":0.01,"m":0.01,"q3":0.01,"hi":0.01},
{"p":"R","e":163,"lo":0.01,"q1":0.01,"m":0.01,"q3":0.02,"hi":0.02},
{"p":"R","e":164,"lo":0.01,"q1":0.01,"m":0.01,"q3":0.01,"hi":0.01},
{"p":"R","e":165,"lo":0.01,"q1":0.01,"m":0.01,"q3":0.01,"hi":0.01},
{"p":"R","e":166,"lo":0.01,"q1":0.01,"m":0.01,"q3":0.02,"hi":0.02},
{"p":"R","e":167,"lo":0.01,"q1":0.01,"m":0.01,"q3":0.01,"hi":0.01},
{"p":"R","e":168,"lo":0,"q1":0,"m":0,"q3":0,"hi":0},
{"p":"R","e":169,"lo":0.01,"q1":0.01,"m":0.01,"q3":0.01,"hi":0.01},
{"p":"R","e":170,"lo":0,"q1":0,"m":0.01,"q3":0.01,"hi":0.01},
{"p":"R","e":171,"lo":0.01,"q1":0.01,"m":0.01,"q3":0.01,"hi":0.01},
{"p":"R","e":172,"lo":0,"q1":0,"m":0.01,"q3":0.01,"hi":0.01},
{"p":"R","e":173,"lo":0,"q1":0,"m":0,"q3":0.01,"hi":0.01},
{"p":"R","e":174,"lo":0,"q1":0,"m":0.01,"q3":0.01,"hi":0.02},
{"p":"R","e":175,"lo":0,"q1":0,"m":0.01,"q3":0.01,"hi":0.01},
{"p":"R","e":176,"lo":0,"q1":0,"m":0,"q3":0.01,"hi":0.01},
{"p":"R","e":177,"lo":0.01,"q1":0.01,"m":0.01,"q3":0.01,"hi":0.01},
{"p":"R","e":178,"lo":0,"q1":0,"m":0.01,"q3":0.01,"hi":0.01},
{"p":"R","e":179,"lo":0.01,"q1":0.01,"m":0.01,"q3":0.01,"hi":0.01},
{"p":"R","e":180,"lo":0.01,"q1":0.01,"m":0.01,"q3":0.02,"hi":0.02},
{"p":"R","e":181,"lo":0.01,"q1":0.01,"m":0.01,"q3":0.01,"hi":0.01},
{"p":"R","e":182,"lo":0,"q1":0,"m":0.01,"q3":0.01,"hi":0.01},
{"p":"R","e":183,"lo":0,"q1":0,"m":0,"q3":0,"hi":0},
{"p":"R","e":184,"lo":0.01,"q1":0.01,"m":0.01,"q3":0.01,"hi":0.01},
{"p":"R","e":185,"lo":0.01,"q1":0.01,"m":0.01,"q3":0.01,"hi":0.01},
{"p":"R","e":186,"lo":0.01,"q1":0.01,"m":0.01,"q3":0.02,"hi":0.02},
{"p":"R","e":187,"lo":0.01,"q1":0.01,"m":0.01,"q3":0.01,"hi":0.01},
{"p":"R","e":188,"lo":0.01,"q1":0.01,"m":0.01,"q3":0.01,"hi":0.01},
{"p":"R","e":189,"lo":0.01,"q1":0.01,"m":0.01,"q3":0.01,"hi":0.01},
{"p":"R","e":190,"lo":0,"q1":0,"m":0.01,"q3":0.01,"hi":0.01},
{"p":"R","e":191,"lo":0.01,"q1":0.01,"m":0.01,"q3":0.01,"hi":0.01},
{"p":"R","e":192,"lo":0.01,"q1":0.01,"m":0.01,"q3":0.01,"hi":0.01},
{"p":"R","e":193,"lo":0.01,"q1":0.01,"m":0.01,"q3":0.01,"hi":0.01},
{"p":"R","e":194,"lo":0.01,"q1":0.01,"m":0.01,"q3":0.01,"hi":0.01},
{"p":"R","e":195,"lo":0.01,"q1":0.01,"m":0.02,"q3":0.02,"hi":0.02},
{"p":"R","e":196,"lo":0.01,"q1":0.01,"m":0.01,"q3":0.01,"hi":0.01},
{"p":"R","e":197,"lo":0,"q1":0,"m":0.01,"q3":0.02,"hi":0.02},
{"p":"R","e":198,"lo":0.01,"q1":0.01,"m":0.01,"q3":0.01,"hi":0.01},
{"p":"R","e":199,"lo":0.01,"q1":0.01,"m":0.01,"q3":0.01,"hi":0.01},
{"p":"R","e":200,"lo":0.01,"q1":0.01,"m":0.01,"q3":0.02,"hi":0.02}
],
"out": [
{"p":"R","e":5,"t":0},{"p":"R","e":9,"t":0},{"p":"R","e":12,"t":0},{"p":"R","e":18,"t":0},{"p":"R","e":26,"t":0},{"p":"R","e":30,"t":0},{"p":"R","e":35,"t":0},{"p":"R","e":39,"t":0},{"p":"R","e":45,"t":0},{"p":"R","e":52,"t":0},{"p":"R","e":58,"t":0},{"p":"R","e":62,"t":0},{"p":"R","e":63,"t":0},{"p":"R","e":66,"t":0},{"p":"R","e":68,"t":0},{"p":"R","e":77,"t":0},{"p":"R","e":83,"t":0},{"p":"R","e":87,"t":0},{"p":"R","e":90,"t":0},{"p":"R","e":94,"t":0},{"p":"R","e":104,"t":0},{"p":"R","e":109,"t":0},{"p":"R","e":113,"t":0},{"p":"R","e":115,"t":0},{"p":"R","e":118,"t":0},{"p":"R","e":120,"t":0},{"p":"R","e":129,"t":0},{"p":"R","e":141,"t":0},{"p":"R","e":144,"t":0},{"p":"R","e":146,"t":0},{"p":"R","e":153,"t":0},{"p":"R","e":161,"t":0},{"p":"R","e":165,"t":0},{"p":"R","e":169,"t":0},{"p":"R","e":177,"t":0},{"p":"R","e":181,"t":0},{"p":"R","e":185,"t":0},{"p":"R","e":191,"t":0},{"p":"R","e":194,"t":0},
{"p":"R","e":6,"t":0.01},{"p":"R","e":21,"t":0.01},{"p":"R","e":28,"t":0.01},{"p":"R","e":59,"t":0.01},{"p":"R","e":80,"t":0.01},{"p":"R","e":112,"t":0.01},{"p":"R","e":117,"t":0.01},{"p":"R","e":143,"t":0.01},{"p":"R","e":168,"t":0.01},
{"p":"R","e":8,"t":0.02},{"p":"R","e":10,"t":0.02},{"p":"R","e":16,"t":0.02},{"p":"R","e":18,"t":0.02},{"p":"R","e":19,"t":0.02},{"p":"R","e":22,"t":0.02},{"p":"R","e":27,"t":0.02},{"p":"R","e":29,"t":0.02},{"p":"R","e":34,"t":0.02},{"p":"R","e":36,"t":0.02},{"p":"R","e":38,"t":0.02},{"p":"R","e":43,"t":0.02},{"p":"R","e":46,"t":0.02},{"p":"R","e":47,"t":0.02},{"p":"R","e":50,"t":0.02},{"p":"R","e":57,"t":0.02},{"p":"R","e":61,"t":0.02},{"p":"R","e":65,"t":0.02},{"p":"R","e":74,"t":0.02},{"p":"R","e":79,"t":0.02},{"p":"R","e":81,"t":0.02},{"p":"R","e":89,"t":0.02},{"p":"R","e":95,"t":0.02},{"p":"R","e":100,"t":0.02},{"p":"R","e":106,"t":0.02},{"p":"R","e":111,"t":0.02},{"p":"R","e":114,"t":0.02},{"p":"R","e":116,"t":0.02},{"p":"R","e":119,"t":0.02},{"p":"R","e":130,"t":0.02},{"p":"R","e":131,"t":0.02},{"p":"R","e":142,"t":0.02},{"p":"R","e":145,"t":0.02},{"p":"R","e":152,"t":0.02},{"p":"R","e":154,"t":0.02},{"p":"R","e":159,"t":0.02},{"p":"R","e":162,"t":0.02},{"p":"R","e":164,"t":0.02},{"p":"R","e":167,"t":0.02},{"p":"R","e":171,"t":0.02},{"p":"R","e":179,"t":0.02},{"p":"R","e":184,"t":0.02},{"p":"R","e":187,"t":0.02},{"p":"R","e":192,"t":0.02},{"p":"R","e":193,"t":0.02},{"p":"R","e":196,"t":0.02},{"p":"R","e":198,"t":0.02},{"p":"R","e":199,"t":0.02},
{"p":"R","e":52,"t":0.03},{"p":"R","e":93,"t":0.03},{"p":"R","e":100,"t":0.03},{"p":"R","e":121,"t":0.03},{"p":"R","e":122,"t":0.03},{"p":"R","e":188,"t":0.03},{"p":"R","e":189,"t":0.03},
{"p":"R","e":133,"t":0.04}
]
},
"concat": [
  {
   "width": 516, "height": 44,
   "data": {"name": "strips"},
   "transform": [{"filter": "datum.p == 'L'"}],
   "encoding": {"y": {"field": "lev", "type": "ordinal", "axis": null, "scale": {"paddingInner": 0, "paddingOuter": 0}}},
   "layer": [
    {"mark": {"type": "rect", "fill": "#f2f2f2", "stroke": "#333333", "strokeWidth": 1},
     "encoding": {
      "x": {"datum": -0.00273, "type": "quantitative", "scale": {"domain": [-0.00273, 0.04277], "nice": false, "zero": false},
            "axis": {"orient": "top", "title": null, "values": [0, 0.01, 0.02, 0.03, 0.04], "labels": false, "domain": false, "grid": false, "ticks": true, "tickSize": 6, "tickColor": "#777777", "tickWidth": 1.2}},
      "x2": {"datum": 0.04277}}},
    {"mark": {"type": "text", "fontSize": 11, "font": "Liberation Sans", "color": "#000000"},
     "encoding": {"x": {"datum": 0.02002, "type": "quantitative"}, "text": {"field": "label"}}}
   ]
  },
  {
   "width": 516, "height": 44,
   "data": {"name": "strips"},
   "transform": [{"filter": "datum.p == 'R'"}],
   "encoding": {"y": {"field": "lev", "type": "ordinal", "axis": null, "scale": {"paddingInner": 0, "paddingOuter": 0}}},
   "layer": [
    {"mark": {"type": "rect", "fill": "#f2f2f2", "stroke": "#333333", "strokeWidth": 1},
     "encoding": {
      "x": {"datum": -0.00273, "type": "quantitative", "scale": {"domain": [-0.00273, 0.04277], "nice": false, "zero": false},
            "axis": {"orient": "top", "title": null, "values": [0, 0.01, 0.02, 0.03, 0.04], "format": ".2f", "labels": true, "domain": false, "grid": false, "ticks": true, "tickSize": 6, "tickColor": "#777777", "tickWidth": 1.2, "labelPadding": 4}},
      "x2": {"datum": 0.04277}}},
    {"mark": {"type": "text", "fontSize": 11, "font": "Liberation Sans", "color": "#000000"},
     "encoding": {"x": {"datum": 0.02002, "type": "quantitative"}, "text": {"field": "label"}}}
   ]
  },
  {
   "width": 516, "height": 257,
   "data": {"name": "box"},
   "transform": [{"filter": "datum.p == 'L'"}],
   "encoding": {
     "y": {"field": "e", "type": "quantitative", "scale": {"domain": [0.4, 200.6], "nice": false, "zero": false},
           "axis": {"values": [10,20,30,40,50,60,70,80,90,100,110,120,130,140,150,160,170,180,190,200], "title": "event number", "ticks": false, "domain": false, "grid": false, "labelPadding": 6, "titlePadding": 6}}
   },
   "layer": [
    {"mark": {"type": "rule", "color": "#0a70b8", "strokeWidth": 1.5},
     "encoding": {
      "x": {"field": "q1", "type": "quantitative", "scale": {"domain": [-0.00273, 0.04277], "nice": false, "zero": false},
            "axis": {"orient": "bottom", "values": [0, 0.01, 0.02, 0.03, 0.04], "format": ".2f", "title": "event processing time (s)", "titleX": 516, "titleAlign": "center", "titlePadding": 8, "grid": true, "gridColor": "#ebebeb", "domainColor": "#8c8c8c", "domainWidth": 1.5, "tickColor": "#777777", "tickWidth": 1.2, "tickSize": 6, "labelPadding": 4}},
      "x2": {"field": "q3"}}},
    {"mark": {"type": "rule", "color": "#2f86c8", "strokeWidth": 1, "strokeDash": [4, 3]},
     "encoding": {"x": {"field": "lo", "type": "quantitative"}, "x2": {"field": "q1"}}},
    {"mark": {"type": "rule", "color": "#2f86c8", "strokeWidth": 1, "strokeDash": [4, 3]},
     "encoding": {"x": {"field": "q3", "type": "quantitative"}, "x2": {"field": "hi"}}},
    {"mark": {"type": "point", "filled": true, "color": "#000000", "size": 15, "opacity": 1},
     "encoding": {"x": {"field": "m", "type": "quantitative"}}}
   ]
  },
  {
   "width": 516, "height": 257,
   "encoding": {
     "y": {"field": "e", "type": "quantitative", "scale": {"domain": [0.4, 200.6], "nice": false, "zero": false}, "axis": null}
   },
   "layer": [
    {"data": {"name": "box"}, "transform": [{"filter": "datum.p == 'R'"}],
     "mark": {"type": "rule", "color": "#0a70b8", "strokeWidth": 1.5},
     "encoding": {
      "x": {"field": "q1", "type": "quantitative", "scale": {"domain": [-0.00273, 0.04277], "nice": false, "zero": false},
            "axis": {"orient": "bottom", "values": [0, 0.01, 0.02, 0.03, 0.04], "labels": false, "title": null, "grid": true, "gridColor": "#ebebeb", "domainColor": "#8c8c8c", "domainWidth": 1.5, "tickColor": "#777777", "tickWidth": 1.2, "tickSize": 6}},
      "x2": {"field": "q3"}}},
    {"data": {"name": "box"}, "transform": [{"filter": "datum.p == 'R'"}],
     "mark": {"type": "rule", "color": "#2f86c8", "strokeWidth": 1, "strokeDash": [4, 3]},
     "encoding": {"x": {"field": "lo", "type": "quantitative"}, "x2": {"field": "q1"}}},
    {"data": {"name": "box"}, "transform": [{"filter": "datum.p == 'R'"}],
     "mark": {"type": "rule", "color": "#2f86c8", "strokeWidth": 1, "strokeDash": [4, 3]},
     "encoding": {"x": {"field": "q3", "type": "quantitative"}, "x2": {"field": "hi"}}},
    {"data": {"name": "out"}, "transform": [{"filter": "datum.p == 'R'"}],
     "mark": {"type": "point", "filled": false, "color": "#0a78c8", "size": 18, "strokeWidth": 1.2, "opacity": 1},
     "encoding": {"x": {"field": "t", "type": "quantitative"}}},
    {"data": {"name": "box"}, "transform": [{"filter": "datum.p == 'R'"}],
     "mark": {"type": "point", "filled": true, "color": "#000000", "size": 15, "opacity": 1},
     "encoding": {"x": {"field": "m", "type": "quantitative"}}}
   ]
  }
]
}
